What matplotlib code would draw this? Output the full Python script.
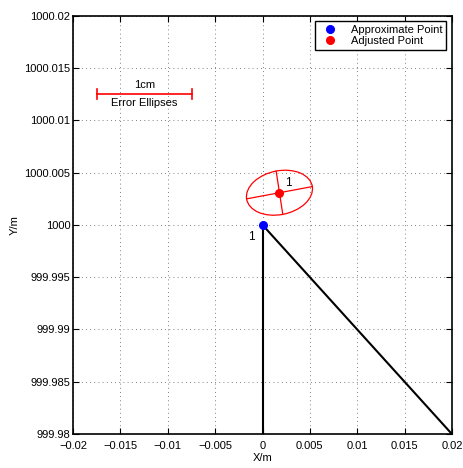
import numpy as np
import matplotlib
matplotlib.use("Agg")
import matplotlib.pyplot as plt
from matplotlib.patches import Ellipse

plt.rcParams['font.family'] = ['Liberation Sans', 'DejaVu Sans']

# Data
approx_point = (0.0, 1000.0)
adjusted_point = (0.00179, 1000.00308)
# lines from approximate point toward known stations (clipped by axes)
line_ends = [(0.0, 999.98), (0.02, 999.98)]
ellipse_semi_major = 0.00352
ellipse_semi_minor = 0.00210
ellipse_angle_deg = 9.6
scale_bar_x = [-0.0175, -0.0075]
scale_bar_y = 1000.0125
point_labels = ["1", "1"]
xticks = [-0.02, -0.015, -0.01, -0.005, 0, 0.005, 0.01, 0.015, 0.02]
xticklabels = ["\u22120.02", "\u22120.015", "\u22120.01", "\u22120.005", "0", "0.005", "0.01", "0.015", "0.02"]
yticks = [999.98, 999.985, 999.99, 999.995, 1000, 1000.005, 1000.01, 1000.015, 1000.02]
yticklabels = ["999.98", "999.985", "999.99", "999.995", "1000", "1000.005", "1000.01", "1000.015", "1000.02"]

fig = plt.figure(figsize=(4.63, 4.68), dpi=100)
ax = fig.add_axes([0.158, 0.0726, 0.818, 0.8936])

for ex, ey in line_ends:
    ax.plot([approx_point[0], ex], [approx_point[1], ey], color='black', lw=1.5, zorder=2)

ell = Ellipse(adjusted_point, 2 * ellipse_semi_major, 2 * ellipse_semi_minor,
              angle=ellipse_angle_deg, fill=False, edgecolor='red', lw=0.9, zorder=3)
ax.add_patch(ell)
th = np.deg2rad(ellipse_angle_deg)
ux, uy = np.cos(th), np.sin(th)
vx, vy = -np.sin(th), np.cos(th)
cx, cy = adjusted_point
ax.plot([cx - ellipse_semi_major * ux, cx + ellipse_semi_major * ux],
        [cy - ellipse_semi_major * uy, cy + ellipse_semi_major * uy], color='red', lw=0.9, zorder=3)
ax.plot([cx - ellipse_semi_minor * vx, cx + ellipse_semi_minor * vx],
        [cy - ellipse_semi_minor * vy, cy + ellipse_semi_minor * vy], color='red', lw=0.9, zorder=3)

ax.plot([approx_point[0]], [approx_point[1]], 'o', color='blue', ms=5.5, zorder=4, label='Approximate Point')
ax.plot([adjusted_point[0]], [adjusted_point[1]], 'o', color='red', ms=5.5, zorder=4, label='Adjusted Point')

ax.text(adjusted_point[0] + 0.0006, adjusted_point[1] + 0.0004, point_labels[1], fontsize=8.5, ha='left', va='bottom')
ax.text(approx_point[0] - 0.0008, approx_point[1] - 0.0006, point_labels[0], fontsize=8.5, ha='right', va='top')

# scale bar
ax.plot(scale_bar_x, [scale_bar_y, scale_bar_y], color='red', lw=1.2)
for xb in scale_bar_x:
    ax.plot([xb, xb], [scale_bar_y - 0.0005, scale_bar_y + 0.0005], color='red', lw=1.2)
xm = (scale_bar_x[0] + scale_bar_x[1]) / 2
ax.text(xm, scale_bar_y + 0.0004, "1cm", ha='center', va='bottom', fontsize=8)
ax.text(xm, scale_bar_y - 0.0004, "Error Ellipses", ha='center', va='top', fontsize=8)

ax.set_xlim(-0.02, 0.02)
ax.set_ylim(999.98, 1000.02)
ax.set_xticks(xticks)
ax.set_xticklabels(xticklabels)
ax.set_yticks(yticks)
ax.set_yticklabels(yticklabels)
ax.tick_params(direction='in', labelsize=8, length=4, top=True, right=True)
ax.tick_params(axis='x', pad=5)
ax.tick_params(axis='y', pad=2)
ax.grid(True, linestyle=(0, (1, 4)), color='0.35', lw=0.6)
for s in ax.spines.values():
    s.set_linewidth(1.2)
ax.set_xlabel("X/m", fontsize=8)
ax.set_ylabel("Y/m", fontsize=8)
ax.yaxis.set_label_coords(-0.155, 0.5)
ax.xaxis.set_label_coords(0.5, -0.058)
ax.yaxis.label.set_va('center')
ax.xaxis.label.set_va('center')

leg = ax.legend(loc='upper right', fontsize=8, frameon=True, fancybox=False,
                edgecolor='black', framealpha=1, handletextpad=0.8, borderpad=0.3,
                labelspacing=0.15, borderaxespad=0.5, markerscale=1.0, handlelength=2.2)
leg.get_frame().set_linewidth(1.0)

fig.savefig("out.png", dpi=100)
